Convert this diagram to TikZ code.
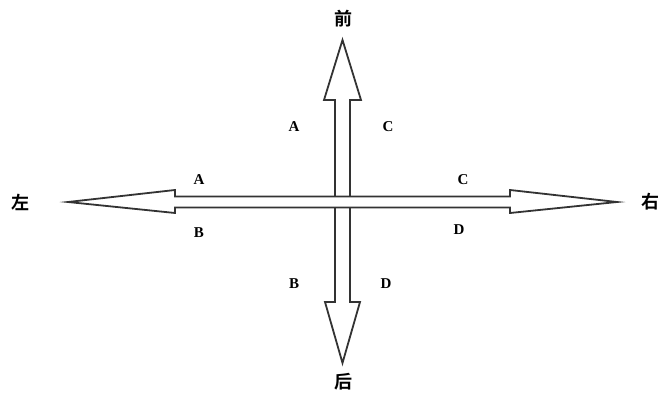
\documentclass[tikz,border=0pt]{standalone}
\usepackage{fontspec}
\setmainfont{Liberation Serif}
\newfontfamily\cjk{Noto Sans CJK SC}[BoldFont={Noto Sans CJK SC Bold}]
\begin{document}
\begin{tikzpicture}[x=1pt,y=-1pt,
  arrowshape/.style={draw=black!80,line width=1.8pt,fill=white,line join=miter},
  letter/.style={font=\bfseries\fontsize{15}{15}\selectfont,inner sep=0pt},
  dirlabel/.style={font=\cjk\bfseries\fontsize{18}{18}\selectfont,inner sep=0pt}]
\useasboundingbox (0,0) rectangle (667,398);
% vertical arrow (front/back)
\draw[arrowshape] (342.5,40) -- (361,100) -- (350,100) -- (350,302) -- (360,302)
  -- (342.5,363) -- (325,302) -- (335,302) -- (335,100) -- (324,100) -- cycle;
% horizontal arrow (left/right)
\draw[arrowshape] (68,202) -- (175,190) -- (175,196.5) -- (510,196.5) -- (510,190)
  -- (617,202) -- (510,213) -- (510,207.5) -- (175,207.5) -- (175,213) -- cycle;
% direction labels
\node[dirlabel] (front) at (343,19) {前};
\node[dirlabel] (back) at (343,382) {后};
\node[dirlabel] (left) at (21,202) {左};
\node[dirlabel] (right) at (650,202) {右};
% letters
\node[letter] (a1) at (294,127) {A};
\node[letter] (c1) at (388,127) {C};
\node[letter] (a2) at (199,180) {A};
\node[letter] (b2) at (199,233) {B};
\node[letter] (c2) at (463,180) {C};
\node[letter] (d2) at (459,230) {D};
\node[letter] (b1) at (294,284) {B};
\node[letter] (d1) at (386,284) {D};
\end{tikzpicture}
\end{document}
